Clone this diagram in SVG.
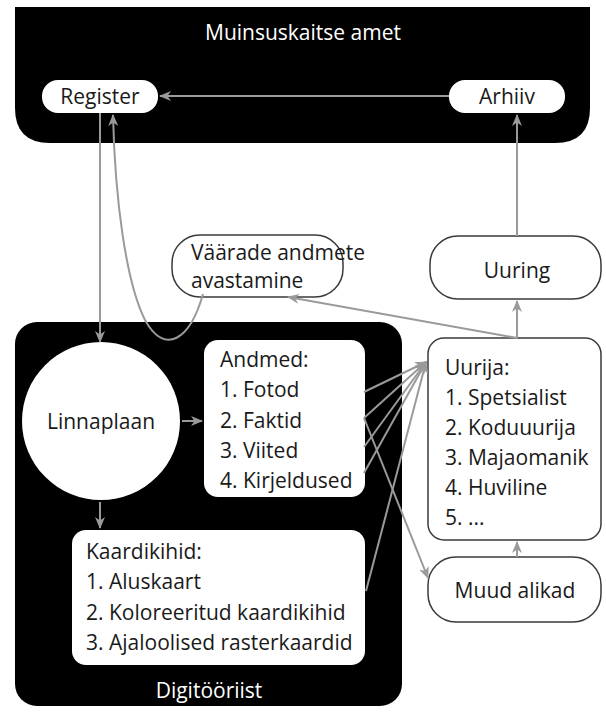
<svg xmlns="http://www.w3.org/2000/svg" width="606" height="715" viewBox="0 0 606 715">
<defs>
<marker id="ah" viewBox="0 0 12 10" refX="11" refY="5" markerWidth="12" markerHeight="10" markerUnits="userSpaceOnUse" orient="auto">
<path d="M0,0 L12,5 L0,10 L3.5,5 Z" fill="#9a9a9a"/>
</marker>
<style>
text{font-family:"Open Sans","Noto Sans","Liberation Sans",sans-serif;font-size:21px;fill:#1a1a1a}
.w{fill:#ffffff}
.c{text-anchor:middle}
.box{fill:#ffffff;stroke:#3a3a3a;stroke-width:1.5}
.plain{fill:#ffffff}
.con{fill:none;stroke:#9a9a9a;stroke-width:2}
.arr{marker-end:url(#ah)}
</style>
</defs>
<rect width="606" height="715" fill="#ffffff"/>
<g id="muinsuskaitse">
<path d="M15,7 H590 V108 Q590,143 555,143 H50 Q15,143 15,108 Z" fill="#000"/>
<text class="w c" x="303" y="40">Muinsuskaitse amet</text>
</g>
<g id="digitooriist">
<rect x="15" y="322" width="387" height="384" rx="22" fill="#000"/>
<text class="w c" x="209" y="698">Digitööriist</text>
</g>
<g id="register">
<rect class="plain" x="42" y="80" width="116" height="33" rx="16"/>
<text class="c" x="100" y="104">Register</text>
</g>
<g id="arhiiv">
<rect class="plain" x="449" y="80" width="116" height="33" rx="16"/>
<text class="c" x="507" y="104">Arhiiv</text>
</g>
<g id="vaarade">
<rect class="box" x="172" y="235" width="171" height="62" rx="28"/>
<text x="191" y="260">Väärade andmete</text>
<text x="191" y="288">avastamine</text>
</g>
<g id="uuring">
<rect class="box" x="430" y="236" width="171" height="63" rx="28"/>
<text class="c" x="517" y="278">Uuring</text>
</g>
<g id="linnaplaan">
<circle cx="101" cy="421" r="79" fill="#ffffff"/>
<text class="c" x="101" y="429">Linnaplaan</text>
</g>
<g id="andmed">
<rect class="plain" x="204" y="340" width="161" height="157" rx="14"/>
<text x="220" y="367">Andmed:</text>
<text x="220" y="397">1. Fotod</text>
<text x="220" y="428">2. Faktid</text>
<text x="220" y="458">3. Viited</text>
<text x="220" y="488">4. Kirjeldused</text>
</g>
<g id="kaardikihid">
<rect class="plain" x="72" y="530" width="293" height="135" rx="14"/>
<text x="86" y="559">Kaardikihid:</text>
<text x="86" y="589">1. Aluskaart</text>
<text x="86" y="620">2. Koloreeritud kaardikihid</text>
<text x="86" y="650">3. Ajaloolised rasterkaardid</text>
</g>
<g id="uurija">
<rect class="box" x="428" y="338" width="173" height="202" rx="16"/>
<text x="445" y="375">Uurija:</text>
<text x="445" y="405">1. Spetsialist</text>
<text x="445" y="435">2. Koduuurija</text>
<text x="445" y="465">3. Majaomanik</text>
<text x="445" y="495">4. Huviline</text>
<text x="445" y="525">5. ...</text>
</g>
<g id="muud">
<rect class="box" x="428" y="557" width="173" height="65" rx="28"/>
<text class="c" x="515" y="598">Muud alikad</text>
</g>
<g id="connectors">
<line class="con arr" x1="449" y1="96" x2="160" y2="96"/>
<line class="con arr" x1="517" y1="236" x2="517" y2="115"/>
<line class="con arr" x1="517" y1="338" x2="517" y2="301"/>
<line class="con arr" x1="517" y1="338" x2="288" y2="297"/>
<line class="con arr" x1="100" y1="113" x2="100" y2="342"/>
<path class="con arr" d="M203,294 C190,340 165,356 145,320 C126,282 115,200 113,115"/>
<line class="con arr" x1="182" y1="421" x2="202" y2="421"/>
<line class="con arr" x1="100" y1="502" x2="100" y2="528"/>
<line class="con arr" x1="364" y1="392" x2="426" y2="362"/>
<line class="con arr" x1="364" y1="418" x2="426" y2="362"/>
<line class="con arr" x1="364" y1="447" x2="426" y2="362"/>
<line class="con arr" x1="364" y1="473" x2="426" y2="362"/>
<line class="con arr" x1="366" y1="591" x2="426" y2="362"/>
<line class="con arr" x1="364" y1="418" x2="428" y2="578"/>
<line class="con arr" x1="517" y1="557" x2="517" y2="542"/>
</g>
</svg>
